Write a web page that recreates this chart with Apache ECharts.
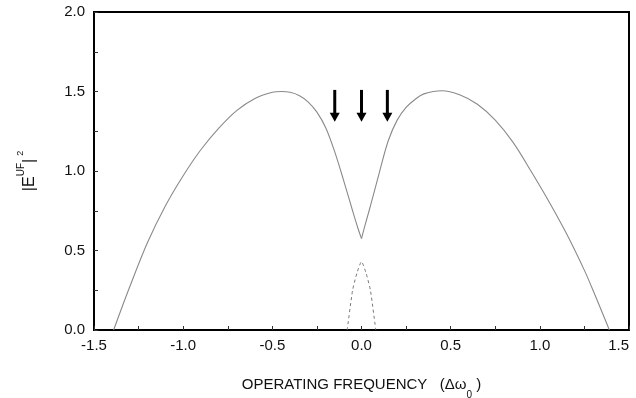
<!DOCTYPE html>
<html>
<head>
<meta charset="utf-8">
<script src="https://cdn.jsdelivr.net/npm/echarts@6/dist/echarts.min.js"></script>
<style>html,body{margin:0;padding:0;background:#fff}#c{width:636px;height:398px}</style>
</head>
<body>
<div id="c"></div>
<script>
// x: operating frequency (Δω0), y: |E^UF|^2
const leftLobe = [[-1.39,0],[-1.3,0.27],[-1.2,0.55],[-1.1,0.78],[-1.0,0.97],[-0.9,1.135],[-0.8,1.27],[-0.7,1.38],[-0.6,1.455],[-0.5,1.495],[-0.45,1.5],[-0.4,1.495],[-0.35,1.475],[-0.3,1.435],[-0.25,1.37],[-0.2,1.27],[-0.15,1.12],[-0.1,0.94],[-0.05,0.75],[-0.02,0.64],[0,0.575]];
const rightLobe = [[0,0.575],[0.02,0.66],[0.05,0.78],[0.1,0.99],[0.15,1.19],[0.2,1.32],[0.25,1.4],[0.3,1.45],[0.35,1.485],[0.45,1.505],[0.55,1.48],[0.65,1.42],[0.75,1.32],[0.85,1.18],[0.95,1.0],[1.05,0.81],[1.15,0.605],[1.25,0.375],[1.3,0.245],[1.39,0]];
const centerPeak = [[-0.08,0],[-0.05,0.25],[-0.025,0.36],[0,0.43],[0.025,0.36],[0.05,0.25],[0.08,0]];
// arrows: [x, top value, tip value]
const arrows = [[-0.15,1.51,1.31],[0,1.51,1.31],[0.145,1.51,1.31]];
const xTicks = {min:-1.5, max:1.5, interval:0.5};
const yTicks = {min:0, max:2, interval:0.5};

const FONT = "'Liberation Sans', Arial, Helvetica, sans-serif";
const chart = echarts.init(document.getElementById('c'), null, {renderer:'canvas'});
const curveStyle = {color:'#8a8a8a', width:1.1};
const axisCommon = {
  axisLine:{show:true, onZero:false, lineStyle:{color:'#000', width:2}},
  axisTick:{show:true, inside:true, length:4, lineStyle:{color:'#333', width:1}},
  minorTick:{show:true, splitNumber:2, length:4, lineStyle:{color:'#333', width:1}},
  splitLine:{show:false},
  minorSplitLine:{show:false}
};
const frameAxis = {
  axisLine:{show:true, onZero:false, lineStyle:{color:'#000', width:2}},
  axisTick:{show:false}, axisLabel:{show:false}, splitLine:{show:false}
};
chart.setOption({
  animation:false,
  backgroundColor:'#fff',
  grid:{left:94, right:7, top:12, bottom:68, show:true, borderColor:'#000', borderWidth:2, backgroundColor:'transparent',
    containLabel:false, outerBoundsMode:'none'},
  xAxis:[Object.assign({
    type:'value', min:xTicks.min, max:xTicks.max, interval:xTicks.interval,
    axisLabel:{show:true, margin:8, fontFamily:FONT, fontSize:15, color:'#111', showMinLabel:true, showMaxLabel:true,
      alignMaxLabel:'right', formatter:v=>v.toFixed(1)},
    name:'{t|OPERATING FREQUENCY   (Δω}{s|0}{t| )}',
    nameLocation:'middle', nameGap:46,
    nameTextStyle:{rich:{
      t:{fontFamily:FONT, fontSize:15, color:'#111', lineHeight:18, verticalAlign:'middle'},
      s:{fontFamily:FONT, fontSize:10, color:'#111', lineHeight:18, verticalAlign:'bottom', padding:[0,0,-6,0]}
    }}
  }, axisCommon),
  Object.assign({type:'value', position:'top', min:xTicks.min, max:xTicks.max, interval:xTicks.interval}, frameAxis)],
  yAxis:[Object.assign({
    type:'value', min:yTicks.min, max:yTicks.max, interval:yTicks.interval,
    axisLabel:{show:true, margin:9, fontFamily:FONT, fontSize:15, color:'#111', showMinLabel:true, showMaxLabel:true,
      formatter:v=>v.toFixed(1)},
    name:'{e||E}{s|UF}{e||}{q|2}',
    nameLocation:'middle', nameGap:56, nameRotate:90,
    nameTextStyle:{rich:{
      e:{fontFamily:FONT, fontSize:16, color:'#111', lineHeight:22, verticalAlign:'bottom'},
      s:{fontFamily:FONT, fontSize:10, color:'#111', lineHeight:22, verticalAlign:'top'},
      q:{fontFamily:FONT, fontSize:9, color:'#111', lineHeight:22, verticalAlign:'top', padding:[0,0,0,3]}
    }}
  }, axisCommon),
  Object.assign({type:'value', position:'right', min:yTicks.min, max:yTicks.max, interval:yTicks.interval}, frameAxis)],
  series:[
    {type:'line', data:leftLobe, smooth:0.35, symbol:'none', lineStyle:curveStyle, silent:true},
    {type:'line', data:rightLobe, smooth:0.35, symbol:'none', lineStyle:curveStyle, silent:true},
    {type:'line', data:centerPeak, smooth:0.2, symbol:'none', lineStyle:{color:'#777', width:1, type:[3,3]}, silent:true},
    {type:'custom', data:arrows, encode:{x:0, y:[1,2]}, silent:true,
      renderItem:function(params, api){
        const x = api.value(0), top = api.coord([x, api.value(1)]), tip = api.coord([x, api.value(2)]);
        const headLen = 9, headW = 5, shaftW = 3;
        return {type:'group', children:[
          {type:'rect', shape:{x:top[0]-shaftW/2, y:top[1], width:shaftW, height:tip[1]-headLen-top[1]+1}, style:{fill:'#000'}},
          {type:'polygon', shape:{points:[[tip[0]-headW, tip[1]-headLen],[tip[0]+headW, tip[1]-headLen],[tip[0], tip[1]]]}, style:{fill:'#000'}}
        ]};
      }}
  ]
});
</script>
</body>
</html>
